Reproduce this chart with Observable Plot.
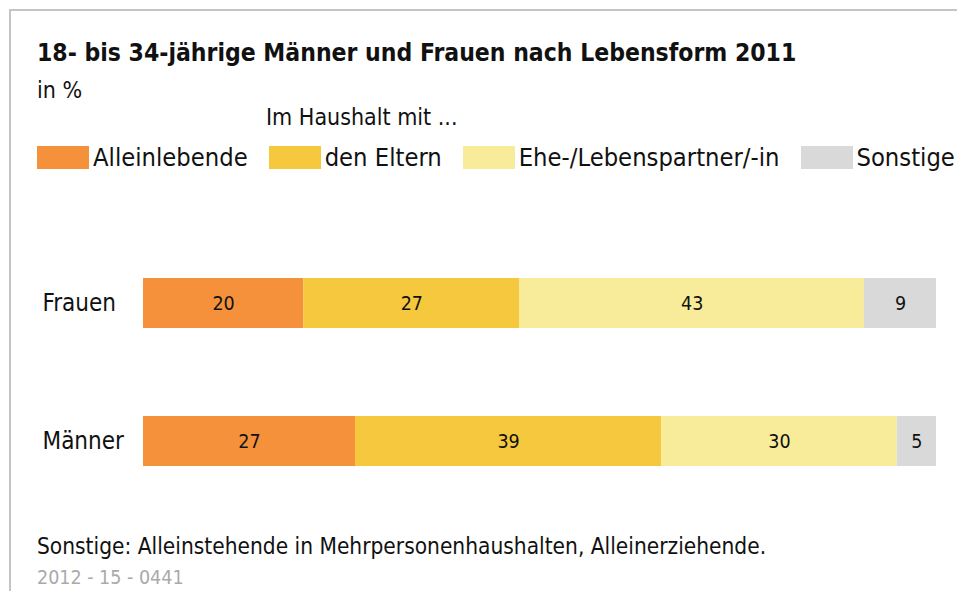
<!DOCTYPE html>
<html><head><meta charset="utf-8">
<script src="https://cdn.jsdelivr.net/npm/d3@7"></script>
<script src="https://cdn.jsdelivr.net/npm/@observablehq/plot@0.6"></script>
<style>
html,body{margin:0;padding:0;background:#fff;width:957px;height:591px;overflow:hidden;}
body{font-family:"DejaVu Sans Condensed","DejaVu Sans",sans-serif;font-stretch:condensed;color:#111;position:relative;}
#frame{position:absolute;left:9px;top:9px;width:946px;height:580px;border-top:2px solid #c4c4c4;border-left:2px solid #c4c4c4;}
.abs{position:absolute;white-space:nowrap;}
#title{left:37px;top:38px;font-size:24.5px;font-weight:bold;}
#unit{left:37px;top:77px;font-size:23px;}
#sub{left:266px;top:104px;font-size:23px;}
#legend{left:37px;top:143px;display:flex;align-items:center;font-size:25.3px;}
.item{display:flex;align-items:center;margin-right:21px;}
.sw{width:52px;height:23px;margin-right:4px;}
#chart{left:0;top:250px;}
#note{left:37px;top:533px;font-size:22.5px;}
#code{left:37px;top:567px;font-size:19.5px;line-height:1.1;color:#aaa;}
</style></head>
<body>
<div id="frame"></div>
<div class="abs" id="title"></div>
<div class="abs" id="unit"></div>
<div class="abs" id="sub"></div>
<div class="abs" id="legend"></div>
<div class="abs" id="chart"></div>
<div class="abs" id="note"></div>
<div class="abs" id="code"></div>
<script>
const title = "18- bis 34-jährige Männer und Frauen nach Lebensform 2011";
const unit = "in %";
const subtitle = "Im Haushalt mit ...";
const note = "Sonstige: Alleinstehende in Mehrpersonenhaushalten, Alleinerziehende.";
const code = "2012 - 15 - 0441";
const groups = ["Frauen", "Männer"];
const categories = ["Alleinlebende", "den Eltern", "Ehe-/Lebenspartner/-in", "Sonstige"];
const colors = ["#f5913b", "#f5c83d", "#f8ec9a", "#d9d9d9"];
const frauen = [20, 27, 43, 9];
const maenner = [27, 39, 30, 5];

document.getElementById("title").textContent = title;
document.getElementById("unit").textContent = unit;
document.getElementById("sub").textContent = subtitle;
document.getElementById("note").textContent = note;
document.getElementById("code").textContent = code;
const leg = document.getElementById("legend");
categories.forEach((c, i) => {
  const it = document.createElement("div"); it.className = "item";
  const sw = document.createElement("div"); sw.className = "sw"; sw.style.background = colors[i];
  const tx = document.createElement("span"); tx.textContent = c;
  it.appendChild(sw); it.appendChild(tx); leg.appendChild(it);
});

const rows = [];
[frauen, maenner].forEach((vals, g) => vals.forEach((v, i) => rows.push({group: groups[g], cat: categories[i], value: v})));

const stack = {x: "value", y: "group", z: "cat", order: categories, offset: "normalize"};
const chart = Plot.plot({
  width: 957, height: 260,
  marginLeft: 143, marginRight: 21, marginTop: 27, marginBottom: 44,
  style: {fontFamily: '"DejaVu Sans Condensed","DejaVu Sans",sans-serif', fontStretch: "condensed", background: "transparent", color: "#111"},
  x: {axis: null},
  y: {domain: groups, paddingInner: 0.639, paddingOuter: 0, label: null},
  color: {domain: categories, range: colors},
  marks: [
    Plot.barX(rows, Plot.stackX({...stack, fill: "cat"})),
    Plot.text(rows, Plot.stackX({...stack, x: "value", text: d => String(d.value), fontSize: 19.5, fill: "#111"})),
    Plot.axisY({tickSize: 0, textAnchor: "start", dx: -101, fontSize: 24, label: null, tickPadding: 0})
  ]
});
chart.querySelectorAll("text").forEach(t => t.setAttribute("font-stretch", "condensed"));
document.getElementById("chart").appendChild(chart);
</script>
</body></html>
